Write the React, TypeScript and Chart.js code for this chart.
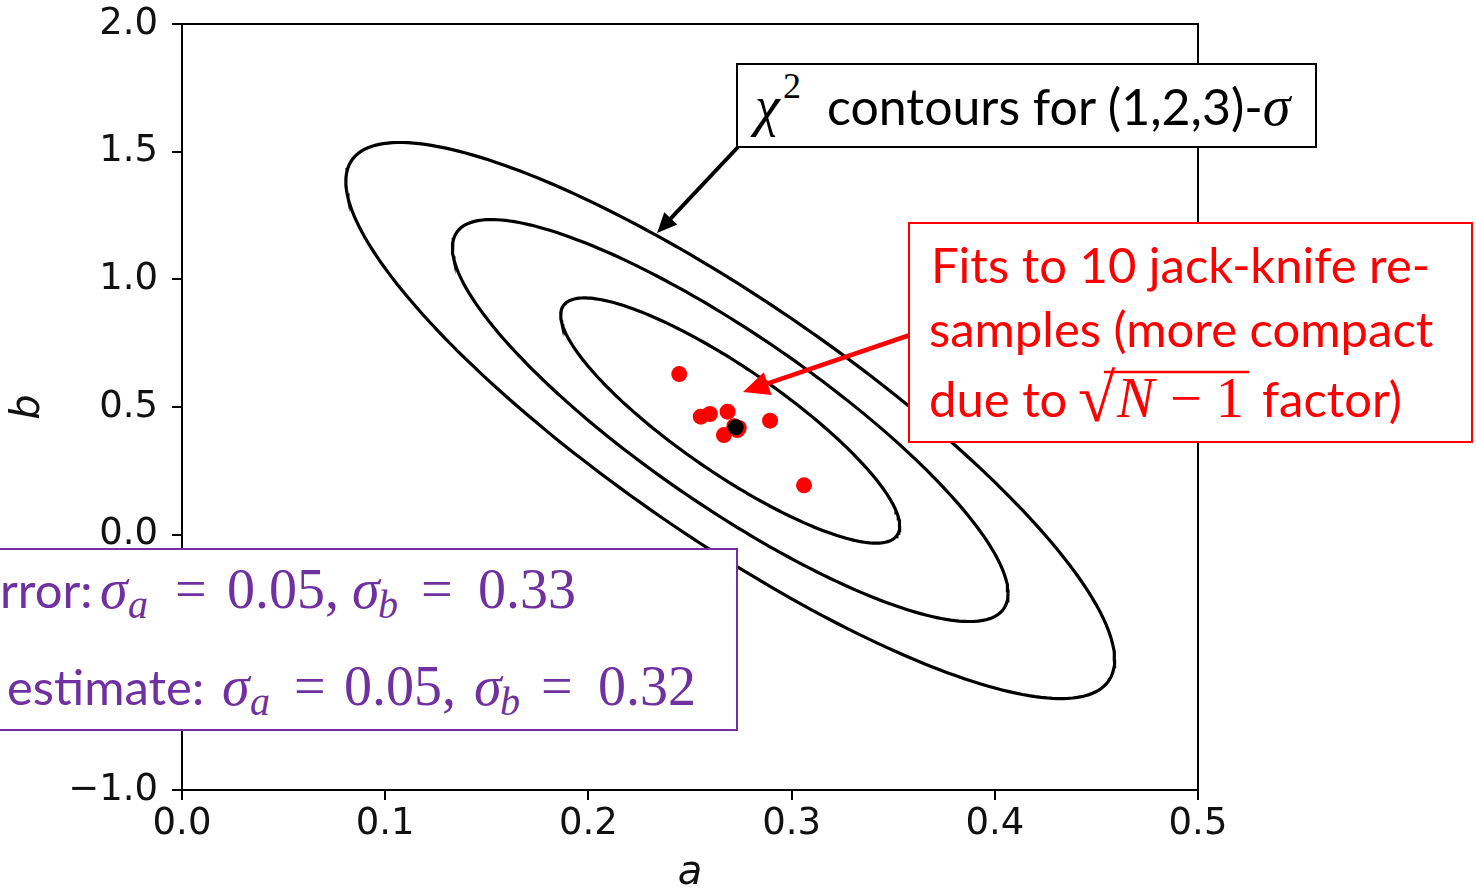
import React, { useEffect, useRef } from "react";
import { Chart, registerables } from "chart.js";

Chart.register(...registerables);

const W = 1476;
const H = 889;

// Best fit (a, b)
const bestFitA = [0.2725];
const bestFitB = [0.4206];

// Fits to the 10 jack-knife resamples
const jackknifeA = [0.2447, 0.2553, 0.2598, 0.2685, 0.2667, 0.2733, 0.2894, 0.3061, 0.2718, 0.274];
const jackknifeB = [0.629, 0.462, 0.4726, 0.4817, 0.39, 0.41, 0.4464, 0.1934, 0.425, 0.418];

// χ² contour ellipses: centre, 1σ widths, correlation, Δχ² levels for 1,2,3σ (two parameters)
const contourCenterA = 0.2698;
const contourCenterB = 0.447;
const sigmaA = 0.055;
const sigmaB = 0.3166;
const rhoAB = -0.86;
const deltaChi2Levels = [2.3, 6.18, 11.83];

const xTicks = [0, 0.1, 0.2, 0.3, 0.4, 0.5];
const yTicks = [-1.0, -0.5, 0, 0.5, 1.0, 1.5, 2.0];

const fmt = (v: number) => v.toFixed(1).replace("-", "\u2212");

function contourPoints(level: number) {
  const k = Math.sqrt(level);
  const pts: { x: number; y: number }[] = [];
  const n = 240;
  for (let i = 0; i <= n; i++) {
    const t = (2 * Math.PI * i) / n;
    const u = Math.cos(t);
    const w = Math.sin(t);
    pts.push({
      x: contourCenterA + k * sigmaA * u,
      y: contourCenterB + k * sigmaB * (rhoAB * u + Math.sqrt(1 - rhoAB * rhoAB) * w),
    });
  }
  return pts;
}

// Callout arrows: start at a box corner (pixels), end at a point in data space
const arrows = [
  { from: [738, 147], to: [0.2338, 1.1815], color: "#000000", width: 4, head: 20, half: 9 },
  { from: [910, 335], to: [0.2761, 0.5588], color: "#ff0000", width: 4.5, head: 26, half: 12 },
];

const framePlugin = {
  id: "frame",
  afterDatasetsDraw(chart: any) {
    const { ctx, chartArea, scales } = chart;
    ctx.save();
    ctx.strokeStyle = "#000";
    ctx.lineWidth = 2;
    ctx.strokeRect(chartArea.left, chartArea.top, chartArea.right - chartArea.left, chartArea.bottom - chartArea.top);

    // axis titles
    ctx.fillStyle = "#111";
    ctx.font = "italic 40px 'DejaVu Sans'";
    ctx.textAlign = "center";
    ctx.textBaseline = "middle";
    ctx.fillText("a", (chartArea.left + chartArea.right) / 2, 874);
    ctx.save();
    ctx.translate(29, (chartArea.top + chartArea.bottom) / 2);
    ctx.rotate(-Math.PI / 2);
    ctx.fillText("b", 0, 0);
    ctx.restore();

    // arrows
    for (const a of arrows) {
      const x0 = a.from[0];
      const y0 = a.from[1];
      const x1 = scales.x.getPixelForValue(a.to[0]);
      const y1 = scales.y.getPixelForValue(a.to[1]);
      const dx = x1 - x0;
      const dy = y1 - y0;
      const len = Math.hypot(dx, dy);
      const ux = dx / len;
      const uy = dy / len;
      const bx = x1 - ux * a.head;
      const by = y1 - uy * a.head;
      ctx.strokeStyle = a.color;
      ctx.fillStyle = a.color;
      ctx.lineWidth = a.width;
      ctx.lineCap = "butt";
      ctx.beginPath();
      ctx.moveTo(x0, y0);
      ctx.lineTo(bx + ux * 2, by + uy * 2);
      ctx.stroke();
      ctx.beginPath();
      ctx.moveTo(x1, y1);
      ctx.lineTo(bx - uy * a.half, by + ux * a.half);
      ctx.lineTo(bx + uy * a.half, by - ux * a.half);
      ctx.closePath();
      ctx.fill();
    }
    ctx.restore();
  },
};

const PURPLE = "#7030a0";
const RED = "#ff0000";
const SANS = "Lato";
const SERIF = "'Liberation Serif'";

export default function App() {
  const ref = useRef<HTMLCanvasElement>(null);

  useEffect(() => {
    const canvas = ref.current;
    if (!canvas) return;
    const tickFont = { family: "'DejaVu Sans'", size: 37 };
    const chart = new Chart(canvas, {
      type: "scatter",
      data: {
        datasets: [
          {
            label: "best fit",
            data: bestFitA.map((a, i) => ({ x: a, y: bestFitB[i] })),
            backgroundColor: "#000",
            borderWidth: 0,
            pointRadius: 8,
          },
          {
            label: "jack-knife",
            data: jackknifeA.map((a, i) => ({ x: a, y: jackknifeB[i] })),
            backgroundColor: RED,
            borderWidth: 0,
            pointRadius: 8,
          },
          ...deltaChi2Levels.map((lvl) => ({
            label: `Δχ² = ${lvl}`,
            data: contourPoints(lvl),
            showLine: true,
            borderColor: "#000",
            borderWidth: 3.2,
            pointRadius: 0,
            tension: 0,
            fill: false,
          })),
        ],
      },
      options: {
        responsive: false,
        animation: false,
        devicePixelRatio: 1,
        layout: { padding: { top: 24, right: 278, left: 0, bottom: 0 } },
        plugins: { legend: { display: false }, tooltip: { enabled: false } },
        scales: {
          x: {
            type: "linear",
            min: 0,
            max: 0.5,
            afterBuildTicks: (s: any) => {
              s.ticks = xTicks.map((v) => ({ value: v }));
            },
            afterFit: (s: any) => {
              s.height = 99;
              s.paddingLeft = 0;
              s.paddingRight = 0;
              s.paddingTop = 0;
              s.paddingBottom = 0;
            },
            grid: { display: true, drawOnChartArea: false, drawTicks: true, tickLength: 10, color: "#000", lineWidth: 2 },
            border: { display: false },
            ticks: { color: "#111", font: tickFont, padding: 2, maxRotation: 0, autoSkip: false, callback: (v: any) => fmt(Number(v)) },
          },
          y: {
            type: "linear",
            min: -1,
            max: 2,
            afterBuildTicks: (s: any) => {
              s.ticks = yTicks.map((v) => ({ value: v }));
            },
            afterFit: (s: any) => {
              s.width = 182;
              s.paddingLeft = 0;
              s.paddingRight = 0;
              s.paddingTop = 0;
              s.paddingBottom = 0;
            },
            grid: { display: true, drawOnChartArea: false, drawTicks: true, tickLength: 10, color: "#000", lineWidth: 2 },
            border: { display: false },
            ticks: { color: "#111", font: tickFont, padding: 14, autoSkip: false, callback: (v: any) => fmt(Number(v)) },
          },
        },
      },
      plugins: [framePlugin],
    } as any);
    return () => chart.destroy();
  }, []);

  return (
    <div style={{ position: "fixed", left: 0, top: 0, width: W, height: H, overflow: "hidden", background: "#fff" }}>
      <canvas ref={ref} width={W} height={H} style={{ position: "absolute", left: 0, top: 0, width: W, height: H }} />
      <svg width={W} height={H} style={{ position: "absolute", left: 0, top: 0 }}>
        {/* contour label */}
        <rect x={737} y={64} width={579} height={83} fill="#fff" stroke="#000" strokeWidth={2} />
        <text y={125} fill="#000" fontFamily={SANS} fontSize={50}>
          <tspan x={755} fontFamily={SERIF} fontStyle="italic" fontSize={56}>χ</tspan>
          <tspan x={783} y={98} fontFamily={SERIF} fontSize={36}>2</tspan>
          <tspan x={827} y={125}>contours for (1,2,3)-</tspan>
          <tspan fontFamily={SERIF} fontStyle="italic" fontSize={56}>σ</tspan>
        </text>

        {/* jack-knife label */}
        <rect x={909} y={223} width={563} height={219} fill="#fff" stroke={RED} strokeWidth={2} />
        <text fill={RED} fontFamily={SANS} fontSize={49}>
          <tspan x={931} y={283}>Fits to 10 jack-knife re-</tspan>
          <tspan x={929} y={347}>samples (more compact</tspan>
          <tspan x={929} y={417}>due to </tspan>
          <tspan x={1078} y={421} fontFamily={SERIF} fontSize={68}>√</tspan>
          <tspan x={1117} y={417} fontFamily={SERIF} fontStyle="italic" fontSize={56}>N</tspan>
          <tspan x={1170} y={417} fontFamily={SERIF} fontSize={56}>−</tspan>
          <tspan x={1216} y={417} fontFamily={SERIF} fontSize={56}>1</tspan>
          <tspan x={1262} y={417}>factor)</tspan>
        </text>
        <line x1={1104} y1={372} x2={1249} y2={372} stroke={RED} strokeWidth={2.5} />

        {/* error estimates */}
        <rect x={-10} y={549} width={747} height={181} fill="#fff" stroke={PURPLE} strokeWidth={2} />
        <text fill={PURPLE} fontFamily={SERIF} fontSize={56}>
          <tspan x={0} y={608} fontFamily={SANS} fontSize={49}>rror:</tspan>
          <tspan x={100} y={608} fontStyle="italic">σ</tspan>
          <tspan x={128} y={618} fontStyle="italic" fontSize={40}>a</tspan>
          <tspan x={175} y={608}>=</tspan>
          <tspan x={227} y={608}>0.05,</tspan>
          <tspan x={352} y={608} fontStyle="italic">σ</tspan>
          <tspan x={378} y={618} fontStyle="italic" fontSize={40}>b</tspan>
          <tspan x={421} y={608}>=</tspan>
          <tspan x={478} y={608}>0.33</tspan>

          <tspan x={7} y={705} fontFamily={SANS} fontSize={49}>estimate:</tspan>
          <tspan x={222} y={705} fontStyle="italic">σ</tspan>
          <tspan x={250} y={715} fontStyle="italic" fontSize={40}>a</tspan>
          <tspan x={294} y={705}>=</tspan>
          <tspan x={344} y={705}>0.05,</tspan>
          <tspan x={474} y={705} fontStyle="italic">σ</tspan>
          <tspan x={500} y={715} fontStyle="italic" fontSize={40}>b</tspan>
          <tspan x={541} y={705}>=</tspan>
          <tspan x={598} y={705}>0.32</tspan>
        </text>
      </svg>
    </div>
  );
}
